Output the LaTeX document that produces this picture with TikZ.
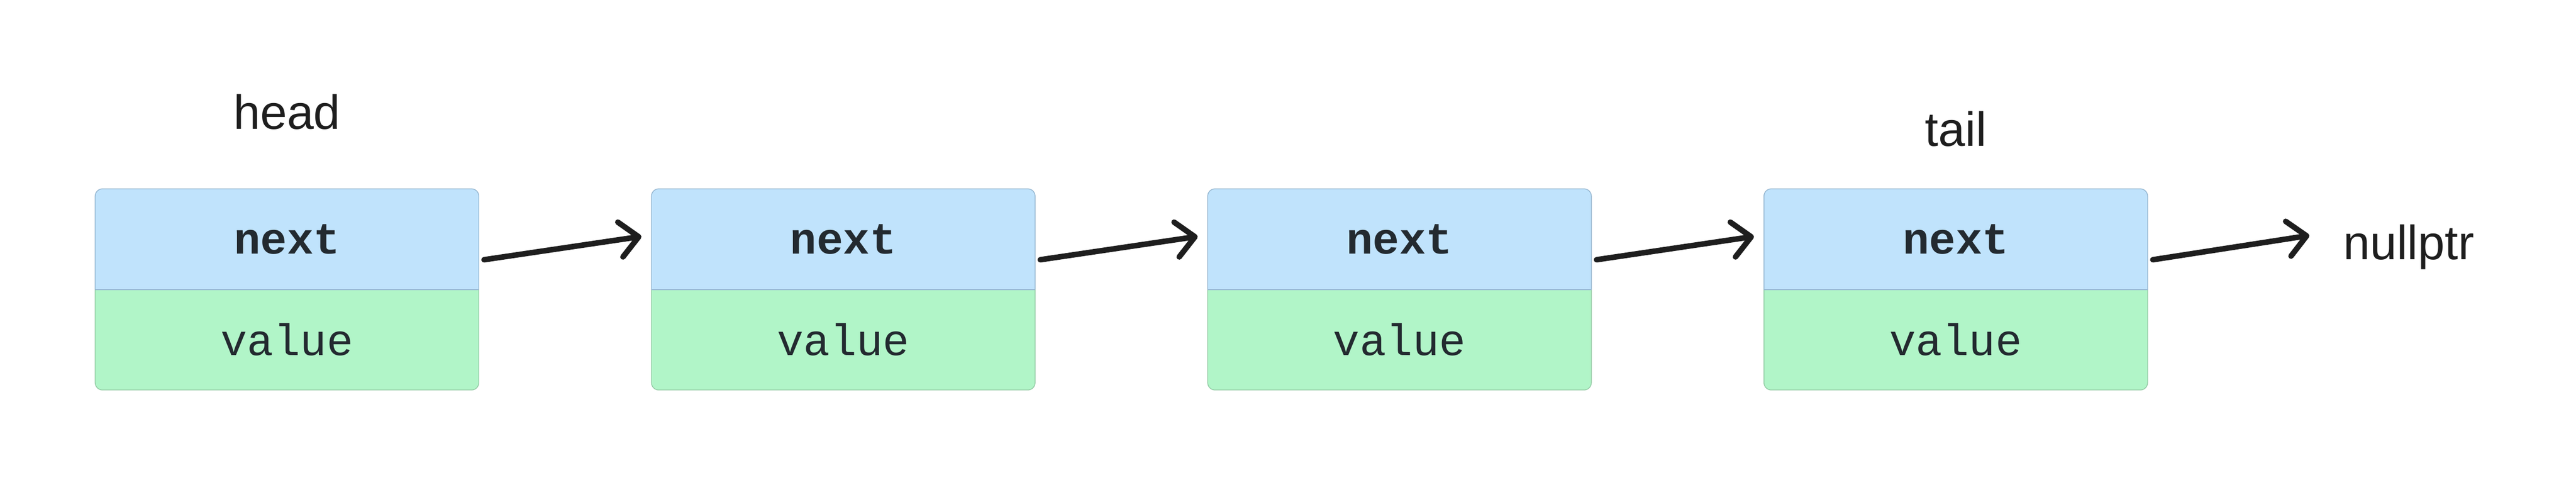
\documentclass[tikz,border=0pt]{standalone}
\usepackage{fontspec}
\setmainfont{Liberation Sans}
\setmonofont{Liberation Mono}
\usetikzlibrary{arrows.meta,backgrounds}
\definecolor{nextfill}{HTML}{C0E3FC}
\definecolor{nextline}{HTML}{95B6D0}
\definecolor{valuefill}{HTML}{B1F5C8}
\definecolor{valueline}{HTML}{94CBA5}
\definecolor{inkdark}{HTML}{1E1E1E}
\definecolor{celltext}{HTML}{232A30}
\begin{document}
\begin{tikzpicture}
[nextcell/.style={shape=rectangle,inner sep=0pt,minimum width=10.36cm,minimum height=2.71cm,
   font=\fontsize{34}{40}\selectfont\ttfamily\bfseries,text=celltext},%
 valuecell/.style={shape=rectangle,inner sep=0pt,minimum width=10.36cm,minimum height=2.70cm,
   font=\fontsize{34}{40}\selectfont\ttfamily,text=celltext},%
 namelabel/.style={inner sep=0pt,anchor=base,font=\fontsize{37}{44}\selectfont,text=inkdark},%
 linkdecorate/.style={draw=inkdark,line width=1.5mm,line cap=round,
   -{Straight Barb[length=5mm,width=9.5mm,line cap=round,line join=round]}}]
\useasboundingbox (0,0) rectangle (69.65,13.10);
%% nodes or cells
\foreach \cellname/\x in {1/7.76, 2/22.80, 3/37.84, 4/52.88} {
  \node (next\cellname) at (\x,6.635) [nextcell] {next};
  \node (value\cellname) at (next\cellname.south) [valuecell,anchor=north] {value};
  \begin{scope}[on background layer]
    \path[fill=nextfill,draw=nextline,line width=0.6pt,rounded corners=2mm]
      (next\cellname.south west) |- (next\cellname.north) -| (next\cellname.south east);
    \path[fill=valuefill,draw=valueline,line width=0.6pt,rounded corners=2mm]
      (value\cellname.north west) |- (value\cellname.south) -| (value\cellname.north east);
    \draw[nextline,line width=0.6pt] (next\cellname.south west) -- (next\cellname.south east);
  \end{scope}
}
%% labels
\node (head) at ([yshift=16.2mm]next1.north) [namelabel] {head};
\node (tail) at ([yshift=11.5mm]next4.north) [namelabel] {tail};
\node (nullptr) at (63.35,6.09) [namelabel,anchor=base west] {nullptr};
%% edges or links
\path
\foreach \startnode/\endnode in {1/2, 2/3, 3/4} {
  ([xshift=1.4mm,yshift=-5.55mm]next\startnode.east) edge[linkdecorate]
    ([xshift=-2.7mm,yshift=0.75mm]next\endnode.west)
};
\draw[linkdecorate] ([xshift=1.4mm,yshift=-5.55mm]next4.east) -- ([xshift=-9.1mm,yshift=3.1mm]nullptr.west);
\end{tikzpicture}
\end{document}
